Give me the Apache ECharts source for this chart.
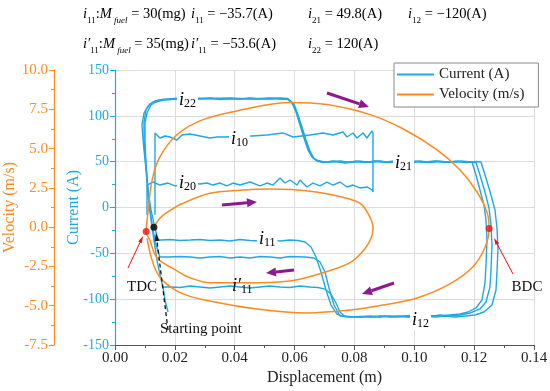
<!DOCTYPE html>
<html><head><meta charset="utf-8">
<script src="https://cdn.jsdelivr.net/npm/echarts@6/dist/echarts.min.js"></script>
<style>html,body{margin:0;padding:0;background:#fff}#c{width:550px;height:391px}</style>
</head><body><div id="c"></div>
<script>
// ---------- axis ranges ----------
const displacementRange = [0, 0.14, 0.02];
const currentRange = [-150, 150, 50];
const velocityRange = [-7.5, 10, 2.5];

// ---------- current traces [displacement (m), current (A)] ----------
const stroke1 = [ // i10 outward then i20 back
[0.01336,-8],[0.01336,40.9],[0.01336,81.3],[0.01503,75.8],[0.01671,78.0],[0.01838,76.9],[0.02071,73.6],[0.02239,79.1],
[0.02506,80.2],[0.0284,78.0],[0.03174,75.8],[0.03408,76.9],[0.03675,76.9],[0.04176,78.0],[0.04577,78.0],[0.05079,79.1],
[0.05613,81.3],[0.05947,76.9],[0.06515,79.1],[0.0695,81.3],[0.07284,79.1],[0.07618,82.4],[0.07751,76.9],[0.07952,81.3],
[0.08086,75.8],[0.08286,81.3],[0.0842,75.8],[0.08587,83.5],[0.0862,81.3],[0.0862,16.9],
[0.08587,19.1],[0.0842,22.4],[0.08186,21.3],[0.07952,24.5],[0.07751,22.4],[0.07518,27.8],[0.07284,24.5],[0.07083,27.8],
[0.06849,23.5],[0.06615,26.7],[0.06415,22.4],[0.06181,30.0],[0.06081,24.5],[0.05847,30.0],[0.0568,26.7],[0.05513,32.2],
[0.05279,24.5],[0.05079,26.7],[0.04845,23.5],[0.04511,27.8],[0.04176,24.5],[0.03942,26.7],[0.03742,23.5],[0.03508,26.7],
[0.03274,24.5],[0.03074,26.7],[0.0284,25.6],[0.02506,26.7],[0.02005,23.5],[0.01771,26.7],[0.01503,24.5],[0.0127,27.8],
[0.01069,24.5],[0.01069,-8.2]
];
const cycleA = [ // i22 -> i21 -> i12 -> i11 (-35.7 A)
[0.01437,-35.5],[0.01336,-22.4],[0.01203,-2.7],[0.01103,19.1],[0.01036,46.4],[0.00969,73.6],[0.00969,93.3],[0.01036,106.4],
[0.01169,112.9],[0.01336,116.2],[0.0157,117.8],[0.02339,119.5],[0.0284,118.4],[0.03174,119.5],[0.03508,117.8],[0.03842,118.9],
[0.04176,118.4],[0.04511,119.5],[0.04845,118.4],[0.05179,118.9],[0.05513,118.4],[0.0578,117.8],[0.05914,114.0],[0.06047,104.2],
[0.06181,90.0],[0.06315,75.8],[0.06448,62.7],[0.06582,55.1],[0.06716,51.8],[0.06916,50.2],[0.07183,49.6],[0.07518,50.7],
[0.07852,49.1],[0.08186,50.2],[0.0852,49.6],[0.08854,50.7],[0.09188,49.1],[0.09522,50.2],[0.09856,49.6],[0.1019,50.7],
[0.10525,49.1],[0.10859,50.2],[0.11193,49.6],[0.11527,50.7],[0.11928,49.6],[0.12061,35.5],[0.12195,19.1],[0.12329,2.7],
[0.12396,-13.6],[0.12429,-35.5],[0.12396,-62.7],[0.12362,-82.4],[0.12262,-100.9],[0.12061,-109.6],[0.11794,-114.0],[0.11527,-116.2],
[0.11193,-117.3],[0.10859,-118.4],[0.10525,-117.8],[0.1019,-118.9],[0.09856,-117.8],[0.09522,-118.9],[0.09188,-118.4],[0.08854,-119.5],
[0.0852,-118.4],[0.08186,-119.5],[0.07852,-118.9],[0.07584,-118.4],[0.07417,-116.2],[0.07217,-106.4],[0.0705,-90.0],[0.06883,-70.4],
[0.06716,-54.0],[0.06549,-43.1],[0.06348,-37.6],[0.06114,-36.0],[0.05847,-35.5],[0.05513,-36.5],[0.05179,-35.5],[0.04845,-36.5],
[0.04511,-36.0],[0.04176,-34.9],[0.03842,-36.5],[0.03508,-35.5],[0.03174,-36.0],[0.0284,-34.9],[0.02506,-35.5],[0.02172,-36.0],
[0.01838,-34.9],[0.0157,-35.5],[0.01437,-35.5]
];
const cycleB = [ // i11' level (-53.6 A)
[0.01503,-54.0],[0.0137,-40.9],[0.0127,-24.5],[0.01169,-2.7],[0.01103,19.1],[0.01036,46.4],[0.01002,73.6],[0.01002,92.2],
[0.01069,103.1],[0.01203,111.8],[0.0137,115.1],[0.01604,117.3],[0.02172,118.4],[0.02506,119.5],[0.03174,118.9],[0.03842,119.5],
[0.04511,118.4],[0.05179,119.5],[0.05513,118.9],[0.0578,118.4],[0.05947,113.5],[0.06081,103.1],[0.06214,89.0],[0.06348,74.7],
[0.06482,61.6],[0.06615,54.0],[0.06749,50.7],[0.0695,49.1],[0.07284,50.7],[0.07685,48.5],[0.08019,50.2],[0.08353,49.1],
[0.08687,50.7],[0.09021,49.6],[0.09355,50.7],[0.09689,49.1],[0.10023,50.2],[0.10358,49.6],[0.10692,50.7],[0.11026,49.1],
[0.1136,50.2],[0.11694,49.6],[0.12061,49.1],[0.12195,35.5],[0.12362,16.9],[0.12496,-0.5],[0.12563,-19.1],[0.12596,-40.9],
[0.12563,-68.2],[0.12529,-86.7],[0.12396,-103.1],[0.12195,-110.7],[0.11861,-115.1],[0.11527,-117.3],[0.11193,-118.4],[0.10859,-117.3],
[0.10525,-118.9],[0.1019,-117.8],[0.09856,-119.5],[0.09522,-118.4],[0.09188,-119.5],[0.08854,-118.4],[0.0852,-119.5],[0.08186,-118.9],
[0.07852,-119.5],[0.07518,-118.4],[0.07317,-106.4],[0.0715,-87.8],[0.07016,-70.4],[0.06849,-59.5],[0.06649,-55.1],[0.06348,-54.0],
[0.05847,-53.5],[0.05513,-55.1],[0.05179,-54.0],[0.04845,-53.5],[0.04511,-55.1],[0.04176,-54.0],[0.03842,-55.1],[0.03508,-53.5],
[0.03174,-54.0],[0.0284,-55.1],[0.02506,-54.0],[0.02172,-53.5],[0.01838,-54.0],[0.01503,-54.0]
];
const cycleC = [ // lowest return level
[0.01771,-114.0],[0.01671,-100.9],[0.01604,-86.7],[0.01503,-73.6],[0.01403,-57.3],[0.01303,-35.5],[0.01203,-13.6],[0.01103,13.6],
[0.01036,40.9],[0.00936,73.6],[0.00902,90.0],[0.00969,103.1],[0.01103,110.7],[0.0127,115.1],[0.01503,117.3],[0.02005,118.9],
[0.02506,118.4],[0.03174,118.9],[0.03842,118.4],[0.04511,118.9],[0.05179,118.4],[0.05513,119.5],[0.0578,118.9],[0.0598,112.9],
[0.06114,101.0],[0.06248,87.8],[0.06382,73.6],[0.06515,61.6],[0.06649,53.5],[0.06782,50.7],[0.06983,49.6],[0.07351,50.2],
[0.07752,49.1],[0.08086,50.7],[0.0842,49.6],[0.08754,50.2],[0.09088,49.1],[0.09422,50.7],[0.09756,49.6],[0.1009,50.2],
[0.10424,49.1],[0.10758,50.7],[0.11093,49.6],[0.11427,50.2],[0.11761,49.1],[0.12095,50.2],[0.12229,49.6],[0.12396,32.2],
[0.12563,13.6],[0.12696,-2.7],[0.12763,-22.4],[0.12796,-44.2],[0.12763,-70.4],[0.1273,-90.0],[0.12596,-106.4],[0.12329,-114.0],
[0.12028,-117.3],[0.11694,-118.4],[0.1136,-119.5],[0.11026,-118.4],[0.10692,-119.5],[0.10358,-118.4],[0.10023,-119.5],[0.09689,-118.9],
[0.09355,-119.5],[0.09021,-118.4],[0.08687,-119.5],[0.08353,-118.9],[0.08019,-119.5],[0.07685,-118.9],[0.07518,-114.0],[0.07384,-104.2],
[0.07217,-94.4],[0.07016,-89.0],[0.06782,-87.3],[0.06515,-86.7],[0.06181,-85.6],[0.05847,-87.3],[0.05513,-86.7],[0.05179,-85.6],
[0.04845,-86.7],[0.04511,-87.8],[0.04176,-86.7],[0.03842,-85.6],[0.03508,-86.7],[0.03174,-87.8],[0.0284,-86.7],[0.02506,-85.6],
[0.02172,-87.3],[0.01838,-86.7],[0.01604,-86.7]
];

// ---------- velocity trace [displacement (m), velocity (m/s)] ----------
const velocityLoop = [
[0.0130,0.00],[0.0150,0.56],[0.0174,0.94],[0.0227,1.52],[0.0317,2.16],[0.0418,2.35],[0.0518,2.42],[0.0652,2.29],
[0.0762,1.90],[0.0819,1.52],[0.0845,0.88],[0.0862,0.00],[0.0859,-0.53],[0.0835,-1.37],[0.0785,-2.26],[0.0695,-2.90],
[0.0585,-3.42],[0.0428,-3.54],[0.0317,-3.54],[0.0251,-3.22],[0.0207,-2.78],[0.0140,-1.94],[0.0117,-0.85],[0.0104,-0.28],
[0.0110,0.88],[0.0124,2.99],[0.0150,4.47],[0.0207,5.88],[0.0294,6.84],[0.0428,7.48],[0.0585,7.93],[0.0708,7.80],
[0.0852,7.16],[0.0962,6.26],[0.1076,4.92],[0.1153,3.63],[0.1210,2.22],[0.1243,0.94],[0.1250,-0.08],[0.1236,-1.30],
[0.1196,-2.52],[0.1119,-3.61],[0.1009,-4.51],[0.0895,-4.96],[0.0785,-5.28],[0.0642,-5.46],[0.0474,-5.21],[0.0317,-4.70],
[0.0227,-4.25],[0.0160,-3.42],[0.0134,-2.65],[0.0117,-1.62],[0.0107,-0.72]
];
const tdcPoint = [0.0104, -0.28];
const bdcPoint = [0.1250, -0.08];
const startPoint = [0.0130, 0.00];

// ---------- styling ----------
const SERIF = 'Liberation Serif';
const BLUE = '#1FA9E4';
const ORANGE = '#FF8A1F';
const PURPLE = '#8B1A8E';

const chart = echarts.init(document.getElementById('c'), null, {renderer:'canvas'});

function arrow(x1,y1,x2,y2,color,w,hl,hw,dash){
  const dx=x2-x1, dy=y2-y1, L=Math.hypot(dx,dy), ux=dx/L, uy=dy/L, nx=-uy, ny=ux;
  const bx=x2-ux*hl, by=y2-uy*hl;
  return [
    {type:'line', z:100, shape:{x1:x1,y1:y1,x2:bx,y2:by}, style:{stroke:color,lineWidth:w,lineDash:dash||null}},
    {type:'polygon', z:100, shape:{points:[[x2,y2],[bx+nx*hw/2,by+ny*hw/2],[bx-nx*hw/2,by-ny*hw/2]]}, style:{fill:color}}
  ];
}
const topRich = {
  n:{fontFamily:SERIF,fontSize:14.5,color:'#111',lineHeight:22},
  i:{fontFamily:SERIF,fontSize:14.5,fontStyle:'italic',color:'#111',lineHeight:22},
  s:{fontFamily:SERIF,fontSize:9,color:'#111',verticalAlign:'bottom',lineHeight:9},
  si:{fontFamily:SERIF,fontSize:9,fontStyle:'italic',color:'#111',verticalAlign:'bottom',lineHeight:9}
};
function topText(x,y,t){return {type:'text',z:100,style:{x:x,y:y,text:t,rich:topRich,verticalAlign:'middle'}};}
const lblRich = {
  i:{fontFamily:SERIF,fontSize:18,fontStyle:'italic',color:'#111',lineHeight:20},
  s:{fontFamily:SERIF,fontSize:12,color:'#111',verticalAlign:'bottom',lineHeight:12}
};
function lbl(x,y,t,bg){return {type:'text',z:100,style:{x:x,y:y,text:t,rich:lblRich,verticalAlign:'middle',backgroundColor:bg?'#fff':null,padding:bg?[0,2,0,2]:0}};}
function plain(x,y,t,size,align){return {type:'text',z:100,style:{x:x,y:y,text:t,fontFamily:SERIF,fontSize:size,fill:'#111',align:align||'center',verticalAlign:'middle'}};}

const graphics = [
  topText(83,14,'{i|i}{s|11}{n|:}{i|M}{si| fuel}{n| = 30(mg)}'),
  topText(191,14,'{i|i}{s|11}{n| = −35.7(A)}'),
  topText(308,14,'{i|i}{s|21}{n| = 49.8(A)}'),
  topText(408,14,'{i|i}{s|12}{n| = −120(A)}'),
  topText(83,44,'{i|i′}{s|11}{n|:}{i|M}{si| fuel}{n| = 35(mg)}'),
  topText(191,44,'{i|i′}{s|11}{n| = −53.6(A)}'),
  topText(308,44,'{i|i}{s|22}{n| = 120(A)}'),
  lbl(177,100,'{i|i}{s|22}',true),
  lbl(229,139,'{i|i}{s|10}',true),
  lbl(177,183,'{i|i}{s|20}',true),
  lbl(393,163,'{i|i}{s|21}',true),
  lbl(257,239,'{i|i}{s|11}',true),
  lbl(232,286,'{i|i′}{s|11}',false),
  lbl(410,320,'{i|i}{s|12}',true),
  plain(142,287,'TDC',15),
  plain(527,287,'BDC',15),
  plain(201,329,'Starting point',15),
  ...arrow(327,93,369,107,PURPLE,3,10,9),
  ...arrow(222,205,257,202,PURPLE,3,10,9),
  ...arrow(294,270,266,273,PURPLE,3,10,9),
  ...arrow(394,283,362,294,PURPLE,3,10,9),
  ...arrow(128,268,143,236,'#F01010',1,7,4),
  ...arrow(513,274,494,238,'#F01010',1,7,4),
  ...arrow(168,330,156,233,'#111',1.3,8,5,[4,3])
];

const curStyle = {color:BLUE,width:1.4};
function curSeries(d){return {name:'Current (A)',type:'line',data:d,showSymbol:false,symbol:'none',lineStyle:curStyle,itemStyle:{color:BLUE},z:3};}

chart.setOption({
  animation:false,
  backgroundColor:'#fff',
  grid:{left:115,right:16,top:70,bottom:46,containLabel:false,outerBoundsMode:'none'},
  legend:{
    data:[{name:'Current (A)',icon:'rect'},{name:'Velocity (m/s)',icon:'rect'}],
    orient:'vertical',left:394,top:63,itemWidth:37,itemHeight:2,itemGap:5,
    padding:[4,14,5,3],borderColor:'#888',borderWidth:1,backgroundColor:'#fff',selectedMode:false,
    textStyle:{fontFamily:SERIF,fontSize:15,color:'#222'}
  },
  xAxis:{
    type:'value',min:displacementRange[0],max:displacementRange[1],interval:displacementRange[2],
    name:'Displacement (m)',nameLocation:'middle',nameGap:25,nameMoveOverlap:false,
    nameTextStyle:{fontFamily:SERIF,fontSize:16,color:'#222'},
    axisLine:{onZero:false,lineStyle:{color:'#555',width:1.2}},
    axisTick:{length:5,lineStyle:{color:'#555'}},
    minorTick:{show:true,splitNumber:2,length:3,lineStyle:{color:'#555'}},
    axisLabel:{fontFamily:SERIF,fontSize:15,color:'#222',formatter:v=>v.toFixed(2),margin:6},
    splitLine:{show:true,lineStyle:{color:'#dcdcdc',width:1}}
  },
  yAxis:[{
    type:'value',position:'left',min:currentRange[0],max:currentRange[1],interval:currentRange[2],
    name:'Current (A)',nameLocation:'middle',nameGap:33,nameMoveOverlap:false,
    nameTextStyle:{fontFamily:SERIF,fontSize:16,color:BLUE},
    axisLine:{show:true,onZero:false,lineStyle:{color:BLUE,width:1.2}},
    axisTick:{show:true,length:5,lineStyle:{color:BLUE}},
    minorTick:{show:true,splitNumber:2,length:3,lineStyle:{color:BLUE}},
    axisLabel:{fontFamily:SERIF,fontSize:14,color:BLUE,margin:6},
    splitLine:{show:true,lineStyle:{color:'#dcdcdc',width:1}}
  },{
    type:'value',position:'left',offset:61,min:velocityRange[0],max:velocityRange[1],interval:velocityRange[2],
    name:'Velocity (m/s)',nameLocation:'middle',nameGap:36,nameMoveOverlap:false,
    nameTextStyle:{fontFamily:SERIF,fontSize:16,color:ORANGE},
    axisLine:{show:true,onZero:false,lineStyle:{color:ORANGE,width:1.2}},
    axisTick:{show:true,length:5,lineStyle:{color:ORANGE}},
    minorTick:{show:true,splitNumber:2,length:3,lineStyle:{color:ORANGE}},
    axisLabel:{fontFamily:SERIF,fontSize:15,color:ORANGE,margin:6,formatter:v=>v.toFixed(1)},
    splitLine:{show:false}
  }],
  series:[
    curSeries(stroke1),curSeries(cycleA),curSeries(cycleB),curSeries(cycleC),
    {name:'Velocity (m/s)',type:'line',yAxisIndex:1,data:velocityLoop,smooth:0.35,showSymbol:false,symbol:'none',
     lineStyle:{color:ORANGE,width:1.5},itemStyle:{color:ORANGE},z:4},
    {name:'points',type:'scatter',yAxisIndex:1,symbolSize:7,z:6,data:[
      {value:tdcPoint,itemStyle:{color:'#F01010'}},
      {value:bdcPoint,itemStyle:{color:'#F01010'}},
      {value:startPoint,itemStyle:{color:'#000'}}]}
  ],
  graphic:graphics
});
</script></body></html>
